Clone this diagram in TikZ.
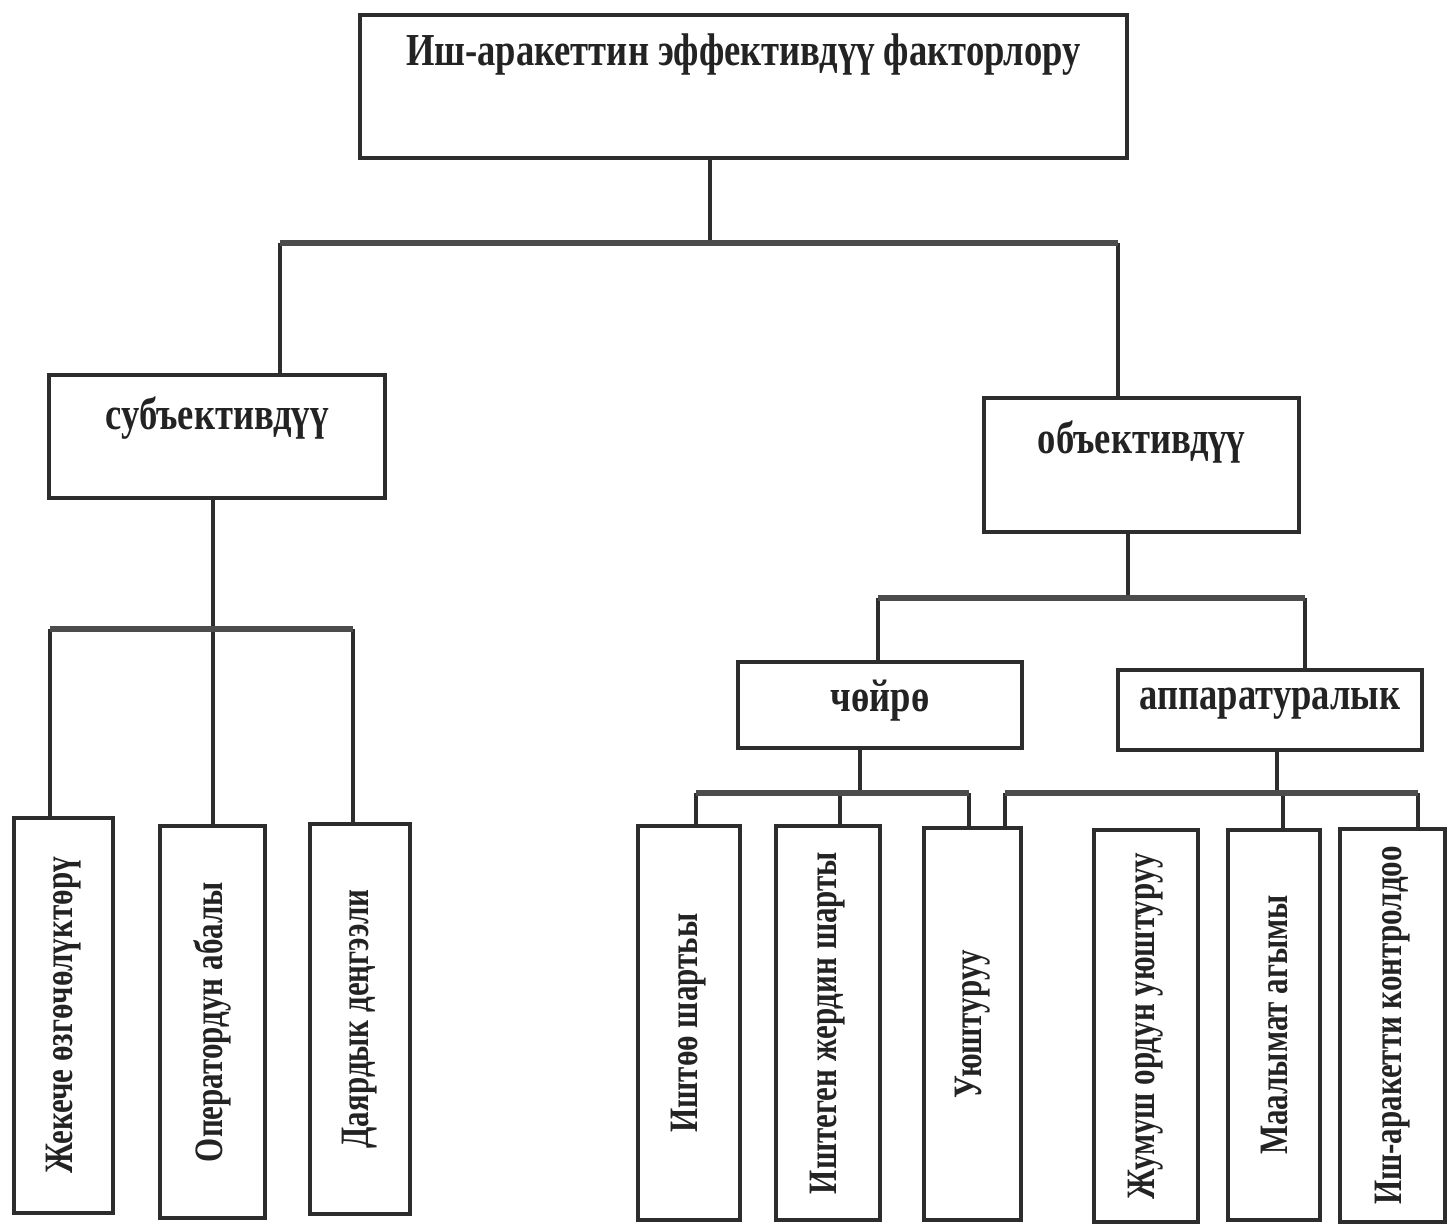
\documentclass[tikz,border=0pt]{standalone}
\usepackage{fontspec}
\setmainfont{Liberation Serif}
\usepackage{graphicx}
\definecolor{ink}{RGB}{45,45,45}
\definecolor{txt}{RGB}{35,35,35}
\newcommand\tallt[1]{\scalebox{1}[1.25]{#1}}
\newcommand\vtxt[1]{\rotatebox{90}{\scalebox{1}[1.3]{#1}}}
\begin{document}
\begin{tikzpicture}[x=0.5pt,y=-0.5pt,
  box/.style 2 args={draw=ink, line width=2.2pt, rectangle, inner sep=0pt, fill=white,
    minimum width=#1*0.5pt, minimum height=#2*0.5pt},
  wire/.style={draw=ink, line width=1.6pt},
  bus/.style={draw=ink!85, line width=2.6pt},
  lbl/.style={font=\bfseries\fontsize{18.3}{22}\selectfont, text=txt, inner sep=0pt},
  vlbl/.style={font=\bfseries\fontsize{15.5}{18}\selectfont, text=txt},
]
\useasboundingbox (0,0) rectangle (1450,1225);
\fill[white] (0,0) rectangle (1450,1225);

% boxes
\node[box={767}{143}, label={[lbl,anchor=north,yshift=-10.5pt]north:\tallt{Иш-аракеттин эффективдүү факторлору}}] (top) at (743.5,86.5) {};
\node[box={336}{123}, label={[lbl,anchor=north,yshift=-12pt]north:\tallt{субъективдүү}}] (subj) at (217,436.5) {};
\node[box={315}{134}, label={[lbl,anchor=north,yshift=-12.5pt]north:\tallt{объективдүү}}] (obj) at (1141.5,465) {};
\node[box={284}{86}, label={[lbl,anchor=center,yshift=2pt]center:\tallt{чөйрө}}] (env) at (880,705) {};
\node[box={304}{80}, label={[lbl,anchor=center,yshift=3pt]center:\tallt{аппаратуралык}}] (app) at (1270,710) {};

\node[box={99}{395}, vlbl] (b1) at (63.5,1015.5) {\vtxt{Жекече өзгөчөлүктөрү}};
\node[box={105}{392}, vlbl] (b2) at (212.5,1022) {\vtxt{Оператордун абалы}};
\node[box={100}{390}, vlbl] (b3) at (360,1019) {\vtxt{Даярдык деңгээли}};
\node[box={102}{394}, vlbl] (b4) at (689,1023) {\vtxt{Иштөө шартьы}};
\node[box={104}{394}, vlbl] (b5) at (828,1023) {\vtxt{Иштеген жердин шарты}};
\node[box={97}{392}, vlbl] (b6) at (972.5,1024) {\vtxt{Уюштуруу}};
\node[box={104}{392}, vlbl] (b7) at (1146,1026) {\vtxt{Жумуш ордун уюштуруу}};
\node[box={92}{390}, vlbl] (b8) at (1274,1025) {\vtxt{Маалымат агымы}};
\node[box={105}{393}, vlbl] (b9) at (1392.5,1025.5) {\vtxt{Иш-аракетти контролдоо}};

% bus coordinates
\coordinate (r1) at (280,243);  \coordinate (m1) at (710,243);  \coordinate (s1) at (1118,243);
\coordinate (r2) at (50,629);   \coordinate (m2) at (213,629);  \coordinate (s2) at (353,629);
\coordinate (r3) at (878,598);  \coordinate (m3) at (1128,598); \coordinate (s3) at (1305,598);
\coordinate (r4) at (696,793);  \coordinate (m4) at (860,793);  \coordinate (k4) at (840,793); \coordinate (s4) at (969,793);
\coordinate (r5) at (1005,793); \coordinate (m5) at (1277,793); \coordinate (k5) at (1283,793); \coordinate (s5) at (1418,793);

% level 1
\draw[wire] (m1 |- top.south) -- (m1);
\draw[wire] (r1) -- (r1 |- subj.north);
\draw[wire] (s1) -- (s1 |- obj.north);
\draw[bus] (r1) -- (s1);

% subjective branch
\draw[wire] (m2 |- subj.south) -- (m2);
\draw[wire] (r2) -- (r2 |- b1.north);
\draw[wire] (m2) -- (m2 |- b2.north);
\draw[wire] (s2) -- (s2 |- b3.north);
\draw[bus] (r2) -- (s2);

% objective branch
\draw[wire] (m3 |- obj.south) -- (m3);
\draw[wire] (r3) -- (r3 |- env.north);
\draw[wire] (s3) -- (s3 |- app.north);
\draw[bus] (r3) -- (s3);

% environment
\draw[wire] (m4 |- env.south) -- (m4);
\draw[wire] (r4) -- (r4 |- b4.north);
\draw[wire] (k4) -- (k4 |- b5.north);
\draw[wire] (s4) -- (s4 |- b6.north);
\draw[bus] (r4) -- (s4);

% apparatus
\draw[wire] (m5 |- app.south) -- (m5);
\draw[wire] (r5) -- (r5 |- b6.north);
\draw[wire] (k5) -- (k5 |- b8.north);
\draw[wire] (s5) -- (s5 |- b9.north);
\draw[bus] (r5) -- (s5);
\end{tikzpicture}
\end{document}
